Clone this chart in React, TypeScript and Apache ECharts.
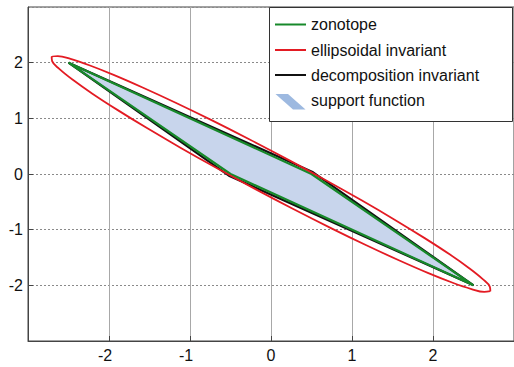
import React, { useEffect, useRef } from "react";
import * as echarts from "echarts";

const xTickValues = [-2, -1, 0, 1, 2];
const yTickValues = [2, 1, 0, -1, -2];

const zonotopeX = [-2.5, 0.5, 2.5, -0.5, -2.5];
const zonotopeY = [2, 0, -2, 0, 2];

const decompositionX = [-2.5, 0.52, 2.5, -0.52, -2.5];
const decompositionY = [2, 0.03, -2, -0.03, 2];

const supportX = [-2.5, 0.5, 2.5, -0.5, -2.5];
const supportY = [2, 0, -2, 0, 2];

const ellipseX = [
  2.708, 2.702, 2.614, 2.447, 2.205, 1.897, 1.531, 1.118, 0.671, 0.204,
  -0.269, -0.734, -1.177, -1.585, -1.943, -2.243, -2.475, -2.632,
  -2.708, -2.702, -2.614, -2.447, -2.205, -1.897, -1.531, -1.118, -0.671, -0.204,
  0.269, 0.734, 1.177, 1.585, 1.943, 2.243, 2.475, 2.632, 2.708,
];
const ellipseY = [
  -2.105, -2.027, -1.888, -1.692, -1.443, -1.152, -0.825, -0.473, -0.107, 0.2625,
  0.624, 0.967, 1.28, 1.554, 1.781, 1.954, 2.068, 2.119,
  2.105, 2.027, 1.888, 1.692, 1.443, 1.152, 0.825, 0.473, 0.107, -0.2625,
  -0.624, -0.967, -1.28, -1.554, -1.781, -1.954, -2.068, -2.119, -2.105,
];

const legendLabels = [
  "zonotope",
  "ellipsoidal invariant",
  "decomposition invariant",
  "support function",
];

const GREEN = "#17892a";
const RED = "#e31b23";
const BLACK = "#111111";
const FILL = "#c8d5ec";
const ICON = "#9db9e0";
const FONT = "Arial, 'Liberation Sans', sans-serif";

const zip = (xs: number[], ys: number[]) => xs.map((x, i) => [x, ys[i]]);

export default function App() {
  const ref = useRef<HTMLDivElement>(null);

  useEffect(() => {
    if (!ref.current) return;
    const chart = echarts.init(ref.current, null, { renderer: "svg" });

    const legendRows = [24.5, 50, 75, 100];
    const lineColors = [GREEN, RED, BLACK];
    const graphic: any[] = [
      {
        type: "rect",
        shape: { x: 269.5, y: 7.5, width: 243, height: 114 },
        style: { fill: "#fff", stroke: "#333", lineWidth: 1 },
        z: 100,
      },
    ];
    lineColors.forEach((c, i) => {
      graphic.push({
        type: "line",
        shape: { x1: 275, y1: legendRows[i], x2: 306, y2: legendRows[i] },
        style: { stroke: c, lineWidth: 2 },
        z: 101,
      });
    });
    graphic.push({
      type: "polygon",
      shape: {
        points: [
          [275.5, 94],
          [288, 94],
          [305.5, 109.5],
          [293, 109.5],
        ],
      },
      style: { fill: ICON },
      z: 101,
    });
    legendLabels.forEach((t, i) => {
      graphic.push({
        type: "text",
        x: 311,
        y: legendRows[i],
        style: {
          text: t,
          fontSize: 16,
          fontFamily: FONT,
          fill: "#111",
          verticalAlign: "middle",
          align: "left",
        },
        z: 101,
      });
    });

    const labelRich = {
      n: { fontSize: 16, fontFamily: FONT, color: "#111" },
      p: { fontSize: 16, fontFamily: FONT, width: 8 },
    };

    chart.setOption({
      animation: false,
      backgroundColor: "#fff",
      grid: {
        left: 28,
        right: -4,
        top: 7,
        bottom: 26,
        show: true,
        borderColor: "#444",
        borderWidth: 1,
        backgroundColor: "#fff",
      },
      xAxis: {
        type: "value",
        min: -3,
        max: 3,
        interval: 1,
        axisLine: { show: true, onZero: false, lineStyle: { color: "#444", width: 1 } },
        axisTick: { show: true, inside: true, length: 5, lineStyle: { color: "#444" } },
        axisLabel: {
          showMinLabel: false,
          showMaxLabel: false,
          margin: 6,
          fontSize: 16,
          fontFamily: FONT,
          color: "#111",
          formatter: (v: number) =>
            xTickValues.includes(v) ? (v < 0 ? `{n|${v}}{p| }` : `{n|${v}}`) : "",
          rich: labelRich,
        },
        splitLine: { show: true, lineStyle: { color: "#a8a8a8", width: 1, type: "solid" } },
      },
      yAxis: {
        type: "value",
        min: -3,
        max: 3,
        interval: 1,
        axisLine: { show: true, onZero: false, lineStyle: { color: "#444", width: 1 } },
        axisTick: { show: true, inside: true, length: 5, lineStyle: { color: "#444" } },
        axisLabel: {
          showMinLabel: false,
          showMaxLabel: false,
          margin: 5,
          fontSize: 16,
          fontFamily: FONT,
          color: "#111",
          formatter: (v: number) => (yTickValues.includes(v) ? String(v) : ""),
        },
        splitLine: { show: true, lineStyle: { color: "#8a8a8a", width: 1, type: [2, 2] } },
      },
      graphic,
      series: [
        {
          name: "support function",
          type: "custom",
          silent: true,
          z: 1,
          data: [[0, 0]],
          renderItem: (_params: any, api: any) => ({
            type: "polygon",
            shape: { points: supportX.map((x, i) => api.coord([x, supportY[i]])) },
            style: { fill: FILL },
          }),
        },
        {
          name: "decomposition invariant",
          type: "line",
          z: 2,
          symbol: "none",
          data: zip(decompositionX, decompositionY),
          lineStyle: { color: BLACK, width: 2.2 },
        },
        {
          name: "zonotope",
          type: "line",
          z: 3,
          symbol: "none",
          data: zip(zonotopeX, zonotopeY),
          lineStyle: { color: GREEN, width: 2.2 },
        },
        {
          name: "ellipsoidal invariant",
          type: "line",
          z: 4,
          symbol: "none",
          smooth: 0.4,
          data: zip(ellipseX, ellipseY),
          lineStyle: { color: RED, width: 1.8 },
        },
      ],
    });

    return () => chart.dispose();
  }, []);

  return (
    <div
      ref={ref}
      style={{ position: "absolute", left: 0, top: 0, width: 514, height: 367 }}
    />
  );
}
